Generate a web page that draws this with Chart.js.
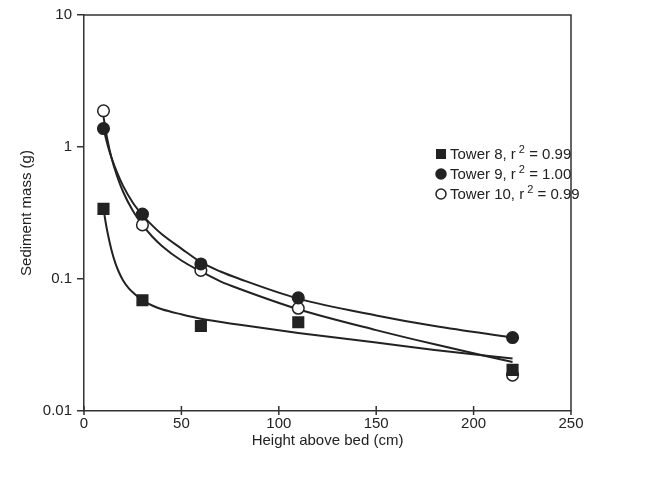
<!DOCTYPE html>
<html>
<head>
<meta charset="utf-8">
<script src="https://cdn.jsdelivr.net/npm/chart.js@4.4.1/dist/chart.umd.min.js"></script>
<style>
  html, body { margin: 0; padding: 0; background: #fff; }
  #wrap { width: 663px; height: 477px; position: relative; }
</style>
</head>
<body>
<div id="wrap"><canvas id="c"></canvas></div>
<script>
// measured points
const heights = [10, 30, 60, 110, 220];
const tower8 = [0.34, 0.069, 0.044, 0.047, 0.0205];
const tower9 = [1.38, 0.31, 0.13, 0.072, 0.036];
const tower10 = [1.88, 0.257, 0.116, 0.060, 0.0187];

// fitted curves
const fit8X = [10, 11, 12, 14, 16, 18, 20, 23, 26, 30, 35, 40, 50, 60, 80, 110, 150, 180, 220];
const fit8 = [0.34, 0.275, 0.228, 0.168, 0.133, 0.112, 0.098, 0.085, 0.077, 0.069, 0.063, 0.059, 0.054, 0.050, 0.045, 0.039, 0.033, 0.029, 0.025];
const fit9X = [10, 12, 14, 17, 20, 25, 30, 35, 40, 50, 60, 70, 80, 110, 150, 180, 220];
const fit9 = [1.38, 1.05, 0.84, 0.64, 0.51, 0.38, 0.305, 0.255, 0.218, 0.17, 0.134, 0.114, 0.1, 0.071, 0.053, 0.044, 0.036];
const fit10X = [10, 11, 12, 14, 17, 20, 25, 30, 35, 40, 50, 60, 70, 80, 110, 150, 180, 220];
const fit10 = [1.7, 1.38, 1.14, 0.84, 0.6, 0.46, 0.33, 0.257, 0.21, 0.178, 0.138, 0.114, 0.096, 0.084, 0.059, 0.041, 0.032, 0.0235];

const legendLabels = ["Tower 8, r", "Tower 9, r", "Tower 10, r"];
const r2Values = ["0.99", "1.00", "0.99"];
const xTicks = [0, 50, 100, 150, 200, 250];
const yTicks = [0.01, 0.1, 1, 10];

const ink = '#222';
const axisColor = '#333';
const font = "'Liberation Sans', Arial, sans-serif";

const pts = (xs, ys) => xs.map((x, i) => ({ x: x, y: ys[i] }));

const markerSet = (label, ys, style, fill) => ({
  label: label,
  data: pts(heights, ys),
  showLine: false,
  pointStyle: style,
  pointRadius: style === 'rect' ? 7.5 : 5.8,
  pointBackgroundColor: fill,
  pointBorderColor: ink,
  pointBorderWidth: 1.5
});

const fitSet = (xs, ys) => ({
  data: pts(xs, ys),
  showLine: true,
  borderColor: ink,
  borderWidth: 2,
  pointRadius: 0,
  cubicInterpolationMode: 'monotone',
  fill: false
});

// frame on top and right, x ticks
const framePlugin = {
  id: 'frame',
  afterDraw(chart) {
    const { ctx, chartArea: a } = chart;
    const xs = chart.scales.x;
    ctx.save();
    ctx.strokeStyle = axisColor;
    ctx.lineWidth = 1.5;
    ctx.beginPath();
    ctx.moveTo(a.left, a.top);
    ctx.lineTo(a.right, a.top);
    ctx.lineTo(a.right, a.bottom);
    xTicks.forEach(v => {
      const px = xs.getPixelForValue(v);
      ctx.moveTo(px, a.bottom - 5);
      ctx.lineTo(px, a.bottom + 4);
    });
    ctx.stroke();
    ctx.restore();
  }
};

// legend inside the plot
const legendPlugin = {
  id: 'insideLegend',
  afterDraw(chart) {
    const { ctx } = chart;
    const x0 = 441, y0 = 154, step = 20;
    ctx.save();
    legendLabels.forEach((lab, i) => {
      const y = y0 + i * step;
      ctx.lineWidth = 1.5;
      ctx.strokeStyle = ink;
      if (i === 0) {
        ctx.fillStyle = ink;
        ctx.fillRect(x0 - 5, y - 5, 10, 10);
      } else {
        ctx.beginPath();
        ctx.arc(x0, y, 5, 0, Math.PI * 2);
        ctx.fillStyle = i === 1 ? ink : '#fff';
        ctx.fill();
        ctx.stroke();
      }
      ctx.fillStyle = ink;
      ctx.textBaseline = 'middle';
      ctx.textAlign = 'left';
      ctx.font = '15px ' + font;
      let tx = x0 + 9;
      ctx.fillText(lab, tx, y + 1);
      tx += ctx.measureText(lab).width + 3;
      ctx.font = '11px ' + font;
      ctx.fillText('2', tx, y - 4);
      tx += ctx.measureText('2').width;
      ctx.font = '15px ' + font;
      ctx.fillText(' = ' + r2Values[i], tx, y + 1);
    });
    ctx.restore();
  }
};

new Chart(document.getElementById('c'), {
  type: 'scatter',
  data: {
    datasets: [
      markerSet('Tower 8', tower8, 'rect', ink),
      markerSet('Tower 9', tower9, 'circle', ink),
      markerSet('Tower 10', tower10, 'circle', '#fff'),
      fitSet(fit8X, fit8),
      fitSet(fit9X, fit9),
      fitSet(fit10X, fit10)
    ]
  },
  options: {
    responsive: true,
    maintainAspectRatio: false,
    animation: false,
    layout: { padding: { left: 0, top: 15, right: 92, bottom: 0 } },
    plugins: {
      legend: { display: false },
      tooltip: { enabled: false }
    },
    scales: {
      x: {
        type: 'linear',
        min: 0,
        max: 250,
        afterBuildTicks: (s) => { s.ticks = xTicks.map(v => ({ value: v })); },
        afterFit: (s) => { s.height = 66; },
        ticks: { color: ink, font: { family: font, size: 15 }, padding: 4, maxRotation: 0 },
        grid: { drawOnChartArea: false, drawTicks: false, color: axisColor, lineWidth: 1.5 },
        border: { color: axisColor, width: 1.5 },
        title: {
          display: true,
          text: 'Height above bed (cm)',
          color: ink,
          font: { family: font, size: 15 },
          padding: { top: 0, bottom: 27 }
        }
      },
      y: {
        type: 'logarithmic',
        min: 0.01,
        max: 10,
        afterBuildTicks: (s) => { s.ticks = yTicks.map(v => ({ value: v })); },
        afterFit: (s) => { s.width = 84; },
        ticks: {
          color: ink,
          font: { family: font, size: 15 },
          padding: 5,
          callback: (v) => String(v)
        },
        grid: { drawOnChartArea: false, tickLength: 7, color: axisColor, lineWidth: 1.5 },
        border: { color: axisColor, width: 1.5 },
        title: {
          display: true,
          text: 'Sediment mass (g)',
          color: ink,
          font: { family: font, size: 15 },
          padding: { top: 18, bottom: 0 }
        }
      }
    }
  },
  plugins: [framePlugin, legendPlugin]
});
</script>
</body>
</html>
